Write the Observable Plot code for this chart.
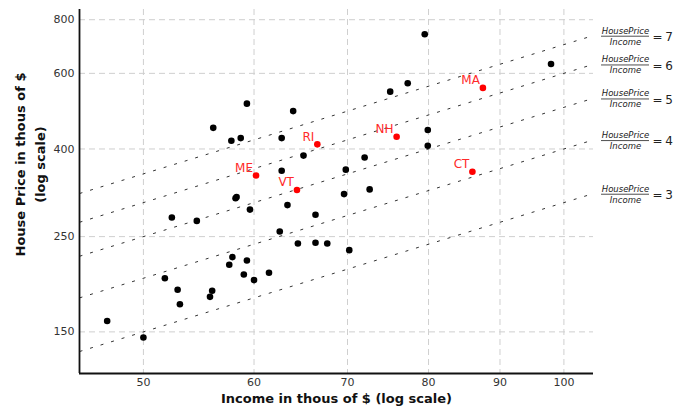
<!DOCTYPE html>
<html>
<head>
<meta charset="utf-8">
<script src="https://cdn.jsdelivr.net/npm/d3@7"></script>
<script src="https://cdn.jsdelivr.net/npm/@observablehq/plot@0.6"></script>
<style>
  body { margin: 0; background: #fff; }
  #chart svg { font-family: "DejaVu Sans", sans-serif; }
</style>
</head>
<body>
<div id="chart"></div>
<script>
// ---- data ----
const income = [59.3, 64.0, 56.1, 57.8, 58.7, 62.8, 65.1, 62.8, 58.2, 58.3, 63.4, 59.6,
  79.5, 97.9, 77.3, 75.1, 79.9, 79.9, 72.0, 69.8, 69.6, 72.6, 66.4, 52.4, 54.6, 62.6,
  64.5, 66.4, 67.7, 57.9, 59.3, 57.6, 59.0, 61.5, 60.0, 51.8, 52.9, 56.0, 55.8, 53.1,
  47.1, 50.0, 70.2];
const price = [510, 490, 448, 418, 424, 424, 386, 356, 307, 309, 296, 289,
  740, 631, 569, 544, 443, 407, 382, 358, 314, 322, 281, 277, 272, 257,
  241, 242, 241, 224, 220, 215, 204, 206, 198, 200, 188, 187, 181, 174,
  159, 145.5, 232.5];
const redStates = ["RI", "ME", "VT", "MA", "NH", "CT"];
const redIncome = [66.6, 60.2, 64.4, 87.5, 75.9, 86.0];
const redPrice = [410, 347, 321, 555, 427, 354];
const ratios = [3, 4, 5, 6, 7];
const xTicks = [50, 60, 70, 80, 90, 100];
const yTicks = [150, 250, 400, 600, 800];
const xDomain = [45, 105];
const yDomain = [120, 845];

const pts = income.map((v, i) => ({income: v, price: price[i]}));
const reds = redStates.map((s, i) => ({state: s, income: redIncome[i], price: redPrice[i]}));
const ratioLines = ratios.map(k => ({k, x1: xDomain[0], x2: xDomain[1], y1: k * xDomain[0], y2: k * xDomain[1]}));

const fracBars = (index, scales) => {
  const g = d3.create("svg:g");
  for (const k of ratios) {
    const x0 = scales.x(xDomain[1]);
    const y0 = scales.y(k * xDomain[1]);
    g.append("line")
      .attr("x1", x0 + 8).attr("x2", x0 + 56)
      .attr("y1", y0 + 1.2).attr("y2", y0 + 1.2)
      .attr("stroke", "#222").attr("stroke-width", 0.8);
  }
  return g.node();
};

const chart = Plot.plot({
  width: 675,
  height: 406,
  marginLeft: 79,
  marginRight: 82,
  marginTop: 9,
  marginBottom: 33,
  style: {fontFamily: "DejaVu Sans, sans-serif", fontSize: "11px", color: "#333", background: "#fff"},
  x: {type: "log", domain: xDomain, ticks: xTicks, tickFormat: d => String(d), tickSize: 0, tickPadding: 5, label: null},
  y: {type: "log", domain: yDomain, ticks: yTicks, tickFormat: d => String(d), tickSize: 0, tickPadding: 5, label: null},
  marks: [
    Plot.ruleX(xTicks, {stroke: "#cfcfcf", strokeDasharray: "6,4", strokeWidth: 1}),
    Plot.ruleY(yTicks, {stroke: "#cfcfcf", strokeDasharray: "6,4", strokeWidth: 1}),
    Plot.link(ratioLines, {x1: "x1", x2: "x2", y1: "y1", y2: "y2", stroke: "#333", strokeWidth: 1, strokeDasharray: "3,8"}),
    Plot.ruleX([xDomain[0]], {stroke: "#111", strokeWidth: 1.8}),
    Plot.ruleY([yDomain[0]], {stroke: "#111", strokeWidth: 1.8}),
    Plot.dot(pts, {x: "income", y: "price", r: 3.3, fill: "black", stroke: "none"}),
    Plot.dot(reds, {x: "income", y: "price", r: 3.3, fill: "red", stroke: "none"}),
    Plot.text(reds, {x: "income", y: "price", text: "state", fill: "#ff2a2a", fontSize: 12, textAnchor: "end", dx: -3, dy: -7.5}),
    // ratio labels
    Plot.text(ratios, {x: () => xDomain[1], y: k => k * xDomain[1], text: () => "HousePrice", fontSize: 8.5, fontStyle: "italic", fill: "#222", textAnchor: "middle", dx: 32, dy: -4.5}),
    Plot.text(ratios, {x: () => xDomain[1], y: k => k * xDomain[1], text: () => "Income", fontSize: 8.5, fontStyle: "italic", fill: "#222", textAnchor: "middle", dx: 32, dy: 6.5}),
    Plot.text(ratios, {x: () => xDomain[1], y: k => k * xDomain[1], text: () => "=", fontSize: 12, fill: "#222", textAnchor: "middle", dx: 64, dy: 1.5}),
    Plot.text(ratios, {x: () => xDomain[1], y: k => k * xDomain[1], text: k => String(k), fontSize: 12, fill: "#222", textAnchor: "middle", dx: 75.5, dy: 1.5}),
    fracBars,
    // axis titles
    Plot.text(["Income in thous of $ (log scale)"], {frameAnchor: "bottom", lineAnchor: "middle", textAnchor: "middle", dy: 25, text: d => d, fontSize: 13, fontWeight: "bold", fill: "#111"}),
    Plot.text(["House Price in thous of $"], {frameAnchor: "left", lineAnchor: "middle", textAnchor: "middle", dx: -59, dy: -27, rotate: -90, text: d => d, fontSize: 13, fontWeight: "bold", fill: "#111"}),
    Plot.text(["(log scale)"], {frameAnchor: "left", lineAnchor: "middle", textAnchor: "middle", dx: -39, dy: -27, rotate: -90, text: d => d, fontSize: 13, fontWeight: "bold", fill: "#111"})
  ]
});
document.getElementById("chart").appendChild(chart);
</script>
</body>
</html>
